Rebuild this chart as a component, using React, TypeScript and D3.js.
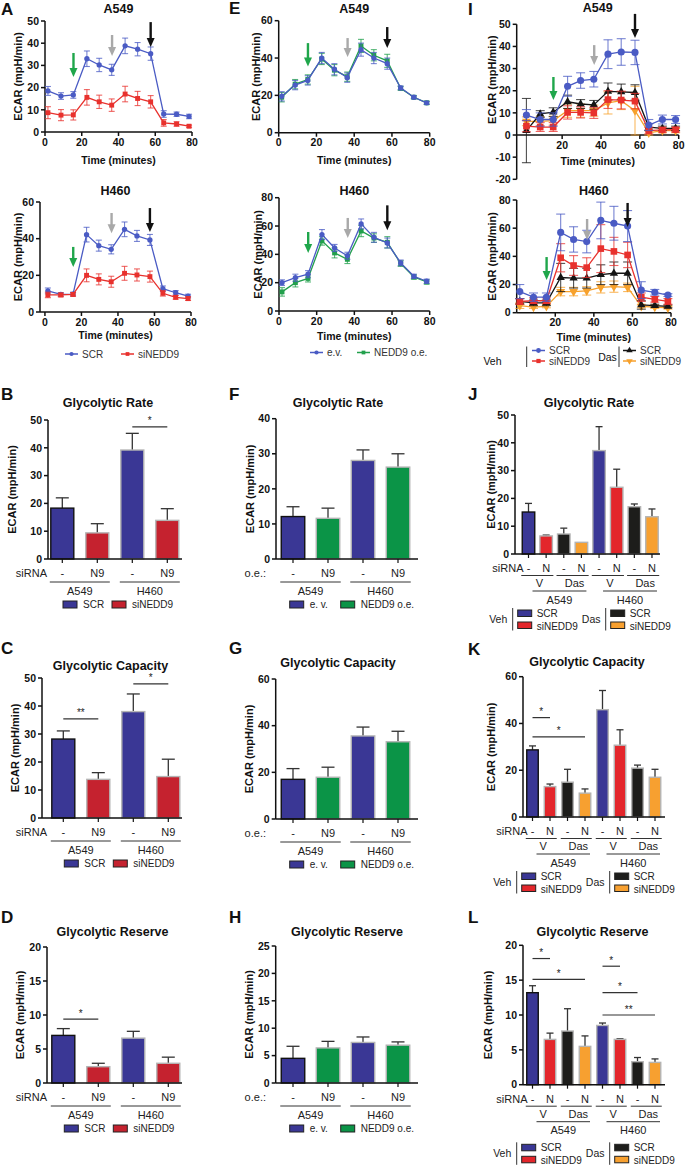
import React from "react";
import * as d3 from "d3";

const FONT = "'Liberation Sans', Arial, Helvetica, sans-serif";

// ======================= DATA =======================
const TIMES = [1.6, 8.7, 15.4, 22.8, 29.5, 36.3, 43.6, 50.4, 57.5, 64.6, 71.6, 78.4];
const INJECTIONS = [15.5, 36.5, 57.5];

// Panel A (siRNA), A549
const A_A549_SCR = [18.5, 16.2, 16.7, 33.0, 30.2, 28.0, 38.8, 37.3, 35.3, 8.1, 8.0, 7.0];
const A_A549_SCR_SD = [2.0, 1.5, 1.5, 3.5, 3.0, 2.5, 3.5, 3.0, 3.0, 1.5, 1.0, 1.0];
const A_A549_SI = [8.7, 7.6, 7.7, 15.6, 13.6, 12.1, 17.1, 15.1, 13.6, 4.1, 3.6, 2.6];
const A_A549_SI_SD = [2.7, 2.5, 2.3, 3.5, 3.0, 2.8, 3.5, 3.2, 2.8, 1.5, 1.0, 0.5];
// Panel A, H460
const A_H460_SCR = [11.5, 9.6, 9.8, 42.2, 36.2, 34.2, 45.1, 41.5, 39.3, 12.7, 10.5, 8.7];
const A_H460_SCR_SD = [1.6, 1.0, 1.0, 4.0, 3.0, 2.5, 4.0, 3.0, 3.0, 1.5, 1.2, 1.0];
const A_H460_SI = [9.3, 9.3, 9.6, 20.0, 17.8, 16.5, 21.1, 20.2, 19.3, 10.2, 8.0, 7.3];
const A_H460_SI_SD = [1.5, 1.0, 1.0, 3.5, 3.0, 3.0, 3.8, 3.3, 3.0, 1.5, 1.0, 1.0];

// Panel E (overexpression), A549
const E_A549_EV = [19.5, 25.5, 28.0, 40.0, 34.0, 29.5, 44.5, 40.0, 37.0, 24.0, 19.0, 16.0];
const E_A549_EV_SD = [2.5, 2.5, 2.5, 3.0, 3.0, 2.5, 3.5, 3.0, 3.0, 1.0, 0.8, 0.8];
const E_A549_OE = [19.0, 26.0, 28.5, 39.5, 33.5, 30.0, 46.5, 41.5, 38.5, 23.8, 19.0, 16.0];
const E_A549_OE_SD = [2.5, 2.5, 2.5, 3.0, 3.0, 2.5, 3.5, 3.0, 3.5, 1.0, 0.8, 0.8];
// Panel E, H460
const E_H460_EV = [20.0, 23.5, 26.0, 54.0, 44.5, 39.0, 61.5, 52.0, 48.0, 34.0, 24.5, 21.0];
const E_H460_EV_SD = [2.0, 2.5, 2.5, 3.5, 2.5, 2.5, 3.5, 3.5, 3.5, 2.0, 1.5, 1.5];
const E_H460_OE = [13.5, 20.0, 23.0, 49.5, 41.0, 36.5, 56.5, 51.5, 48.5, 33.5, 24.0, 20.5];
const E_H460_OE_SD = [3.0, 3.0, 2.5, 3.0, 3.5, 3.0, 4.0, 3.0, 4.0, 2.0, 1.5, 1.5];

// Panel I (siRNA +/- dasatinib), A549
const I_A549_VEH_SCR = [9.0, 7.0, 7.0, 22.0, 24.6, 25.2, 36.5, 37.5, 37.3, 4.5, 7.0, 7.0];
const I_A549_VEH_SCR_SD = [2.5, 3.0, 3.0, 4.5, 3.5, 3.5, 6.5, 6.0, 5.5, 2.5, 2.0, 1.8];
const I_A549_VEH_SI = [4.0, 3.6, 3.6, 10.2, 10.2, 10.0, 16.0, 15.8, 15.3, 2.0, 2.3, 2.4];
const I_A549_VEH_SI_SD = [2.5, 2.0, 2.0, 3.0, 2.5, 2.5, 4.0, 4.0, 3.5, 1.5, 1.0, 1.0];
const I_A549_DAS_SCR = [2.0, 9.5, 10.3, 15.0, 14.0, 13.6, 19.7, 19.5, 19.2, 3.6, 3.0, 3.0];
const I_A549_DAS_SCR_SD = [14.5, 1.5, 2.0, 3.0, 2.0, 2.0, 3.8, 3.5, 3.5, 1.5, 1.0, 1.0];
const I_A549_DAS_SI = [6.2, 6.2, 6.5, 11.0, 11.0, 11.0, 14.5, 15.5, 11.0, 1.0, 2.0, 2.0];
const I_A549_DAS_SI_SD = [2.0, 2.0, 2.0, 3.0, 3.0, 2.5, 5.0, 4.0, 11.0, 1.0, 1.0, 1.0];
// Panel I, H460
const I_H460_VEH_SCR = [15.0, 11.0, 11.0, 57.0, 52.0, 50.5, 65.5, 63.5, 61.5, 16.0, 14.5, 12.5];
const I_H460_VEH_SCR_SD = [5.0, 3.0, 3.0, 13.0, 9.0, 8.0, 13.0, 12.0, 11.0, 6.0, 2.0, 1.0];
const I_H460_VEH_SI = [8.0, 8.5, 8.5, 39.0, 33.5, 32.0, 45.5, 43.5, 41.0, 11.0, 9.5, 8.0];
const I_H460_VEH_SI_SD = [2.0, 2.0, 2.0, 10.0, 7.0, 7.0, 17.0, 10.0, 9.0, 3.0, 2.0, 2.0];
const I_H460_DAS_SCR = [8.0, 7.0, 7.0, 25.0, 24.5, 24.5, 27.0, 28.0, 28.0, 5.5, 5.0, 4.5];
const I_H460_DAS_SCR_SD = [2.0, 2.0, 2.0, 10.0, 7.0, 7.0, 7.0, 8.0, 8.0, 3.0, 1.0, 1.0];
const I_H460_DAS_SI = [5.0, 4.0, 4.5, 15.0, 15.0, 15.5, 18.0, 18.5, 18.0, 4.5, 4.0, 3.5];
const I_H460_DAS_SI_SD = [2.0, 1.0, 1.0, 3.0, 3.0, 3.0, 4.0, 4.0, 3.0, 1.0, 1.0, 1.0];

// Injection arrows: [tip value, tail value] for glucose, oligomycin, 2-DG
const A_A549_ARROWS = [[24.8, 35.6], [34.2, 43.7], [38.3, 49.5]];
const A_H460_ARROWS = [[24.5, 35.5], [43.0, 54.0], [43.6, 56.7]];
const E_A549_ARROWS = [[35.5, 48.0], [40.5, 50.7], [45.4, 56.6]];
const E_H460_ARROWS = [[41.0, 55.8], [51.5, 65.7], [57.0, 74.6]];
const I_A549_ARROWS = [[15.8, 26.2], [31.6, 40.6], [43.8, 54.7]];
const I_H460_ARROWS = [[23.2, 39.5], [51.6, 66.5], [60.8, 77.9]];

// Bar panels (mean, SD)
const B_RATE = [18.3, 9.4, 39.2, 13.9];
const B_RATE_SD = [3.7, 3.3, 6.0, 4.2];
const C_CAP = [28.2, 13.8, 38.0, 14.8];
const C_CAP_SD = [2.9, 2.4, 6.3, 6.2];
const D_RES = [7.0, 2.4, 6.6, 2.9];
const D_RES_SD = [1.0, 0.5, 1.0, 0.9];
const F_RATE = [12.1, 11.6, 28.1, 26.2];
const F_RATE_SD = [2.8, 2.9, 3.0, 3.8];
const G_CAP = [17.0, 17.9, 35.6, 33.1];
const G_CAP_SD = [4.6, 4.3, 3.8, 4.5];
const H_RES = [4.5, 6.4, 7.4, 6.9];
const H_RES_SD = [2.2, 1.2, 1.0, 0.6];
const J_RATE = [15.1, 6.5, 7.2, 4.2, 37.2, 24.0, 17.0, 13.4];
const J_RATE_SD = [3.1, 0.3, 2.1, 0, 8.6, 6.5, 1.0, 2.8];
const K_CAP = [28.7, 13.0, 14.9, 10.2, 45.9, 30.7, 20.9, 17.0];
const K_CAP_SD = [1.7, 1.1, 5.5, 1.8, 8.2, 6.6, 1.3, 3.4];
const L_RES = [13.2, 6.5, 7.7, 5.5, 8.5, 6.5, 3.3, 3.2];
const L_RES_SD = [1.0, 0.9, 3.2, 1.5, 0.35, 0.1, 0.6, 0.5];

// significance: [bar i, bar j, y value, label]
const B_SIG: [number, number, number, string][] = [[2, 3, 47.5, "*"]];
const C_SIG: [number, number, number, string][] = [[0, 1, 35.4, "**"], [2, 3, 47.9, "*"]];
const D_SIG: [number, number, number, string][] = [[0, 1, 9.4, "*"]];
const K_SIG: [number, number, number, string][] = [[0, 1, 42.5, "*"], [0, 3, 34.3, "*"]];
const L_SIG: [number, number, number, string][] = [
  [0, 1, 18.1, "*"], [0, 3, 15.1, "*"], [4, 5, 17.0, "*"], [4, 6, 13.2, "*"], [4, 7, 10.0, "**"],
];

const SI_TICKS = ["-", "N9", "-", "N9"];
const J_TICKS = ["-", "N", "-", "N", "-", "N", "-", "N"];
const TREAT = ["V", "Das", "V", "Das"];
const CELLS = ["A549", "H460"];

// ======================= STYLE =======================
const C_BLUE = "#4a5bc4";
const C_RED = "#e8312d";
const C_GREEN = "#22a04c";
const C_BLACK = "#151515";
const C_ORANGE = "#f7a12c";
const ARROW_COLORS = ["#1fa64b", "#a9a9a9", "#111111"];
const BAR_BLUE = "#3a3795";
const BAR_RED1 = "#c5222f";
const BAR_GREEN = "#0b9447";
const BAR_RED2 = "#e3262b";
const BAR_BLACK = "#1d1d1b";
const BAR_ORANGE = "#f7a030";

type Series = { v: number[]; e: number[]; color: string; marker: string; size: number };

function Sym({ type, x, y, size, color }: { type: string; x: number; y: number; size: number; color: string }) {
  const t = type === "circle" ? d3.symbolCircle : type === "square" ? d3.symbolSquare : d3.symbolTriangle;
  const d = d3.symbol().type(t).size(size)() as string;
  const rot = type === "triDown" ? 180 : 0;
  return <path d={d} transform={`translate(${x},${y}) rotate(${rot})`} fill={color} />;
}

function Arrow({ x, yTip, yTail, color }: { x: number; yTip: number; yTail: number; color: string }) {
  const hw = 4, hl = 9;
  return (
    <g>
      <line x1={x} x2={x} y1={yTail} y2={yTip - hl + 1} stroke={color} strokeWidth={2.4} />
      <path d={`M${x - hw},${yTip - hl}L${x + hw},${yTip - hl}L${x},${yTip}Z`} fill={color} />
    </g>
  );
}

type LineLayout = {
  axisX: number; xEnd: number; xMin: number; yTop: number; yBot: number;
  yDomain: [number, number]; yTicks: number[]; xTicks: number[];
  titleY: number; timeY: number; yLabelX: number; labelRange?: [number, number]; cap: number;
};

function LinePanel({ L, series, arrows, title }: { L: LineLayout; series: Series[]; arrows: number[][]; title: string }) {
  const x = d3.scaleLinear().domain([L.xMin, 80]).range([L.axisX, L.xEnd]);
  const y = d3.scaleLinear().domain(L.yDomain).range([L.yBot, L.yTop]);
  const xAxisY = y(0);
  const mid = (L.axisX + L.xEnd) / 2;
  const lr = L.labelRange ?? L.yDomain;
  const labelMid = (y(lr[0]) + y(lr[1])) / 2;
  const lineGen = d3.line<number>().x((_, i) => x(TIMES[i])).y((v) => y(v));
  return (
    <g>
      <text x={mid} y={L.titleY} textAnchor="middle" fontSize={12.5} fontWeight="bold">{title}</text>
      <text transform={`translate(${L.yLabelX},${labelMid}) rotate(-90)`} textAnchor="middle" dominantBaseline="central" fontSize={11} fontWeight="bold">ECAR (mpH/min)</text>
      <line x1={L.axisX} x2={L.axisX} y1={y(L.yDomain[0])} y2={y(L.yDomain[1])} stroke="#111" strokeWidth={1.5} />
      {L.yTicks.map((t) => (
        <g key={"y" + t}>
          <line x1={L.axisX - 4} x2={L.axisX} y1={y(t)} y2={y(t)} stroke="#111" strokeWidth={1.5} />
          <text x={L.axisX - 6} y={y(t) + 3.7} textAnchor="end" fontSize={10.5} fontWeight="bold">{String(t)}</text>
        </g>
      ))}
      <line x1={L.axisX} x2={L.xEnd} y1={xAxisY} y2={xAxisY} stroke="#111" strokeWidth={1.5} />
      {L.xTicks.map((t) => (
        <g key={"x" + t}>
          <line x1={x(t)} x2={x(t)} y1={xAxisY} y2={xAxisY + 4} stroke="#111" strokeWidth={1.5} />
          <text x={x(t)} y={xAxisY + 13.5} textAnchor="middle" fontSize={10.5} fontWeight="bold">{String(t)}</text>
        </g>
      ))}
      <text x={mid} y={L.timeY} textAnchor="middle" fontSize={10.5} fontWeight="bold">Time (minutes)</text>
      {series.map((s, si) => (
        <g key={si}>
          {s.v.map((v, i) => {
            const cx = x(TIMES[i]);
            const y1 = y(v - s.e[i]);
            const y2 = y(v + s.e[i]);
            return (
              <g key={i} stroke={s.color} strokeOpacity={0.75} strokeWidth={1.1}>
                <line x1={cx} x2={cx} y1={y1} y2={y2} />
                <line x1={cx - L.cap / 2} x2={cx + L.cap / 2} y1={y1} y2={y1} />
                <line x1={cx - L.cap / 2} x2={cx + L.cap / 2} y1={y2} y2={y2} />
              </g>
            );
          })}
          <path d={lineGen(s.v) as string} fill="none" stroke={s.color} strokeWidth={1.3} />
          {s.v.map((v, i) => (
            <Sym key={i} type={s.marker} x={x(TIMES[i])} y={y(v)} size={s.size} color={s.color} />
          ))}
        </g>
      ))}
      {arrows.map((a, k) => (
        <Arrow key={k} x={x(INJECTIONS[k])} yTip={y(a[0])} yTail={y(a[1])} color={ARROW_COLORS[k]} />
      ))}
    </g>
  );
}

type BarLayout = {
  axisX: number; xEnd: number; yTop: number; yBot: number; yMax: number; yTicks: number[];
  c0: number; step: number; bw: number; titleX: number; titleY: number; letterY: number;
  yLabelX: number; legX: number; legGap?: number; legDy?: number; cap: number;
};

function bandFor(L: BarLayout, n: number) {
  const pad = 1 - L.bw / L.step;
  return d3.scaleBand<number>()
    .domain(d3.range(n))
    .range([L.c0 - L.step / 2, L.c0 - L.step / 2 + n * L.step])
    .paddingInner(pad)
    .paddingOuter(pad / 2);
}

function BarPanel({ L, values, errs, colors, sig, title, letter, children }: {
  L: BarLayout; values: number[]; errs: number[]; colors: string[];
  sig: [number, number, number, string][]; title: string; letter: string; children?: React.ReactNode;
}) {
  const y = d3.scaleLinear().domain([0, L.yMax]).range([L.yBot, L.yTop]);
  const xb = bandFor(L, values.length);
  const bw = xb.bandwidth();
  const cx = (i: number) => (xb(i) as number) + bw / 2;
  const letterX = L.axisX < 200 ? 1 : L.axisX < 450 ? 229 : 468;
  return (
    <g>
      <text x={letterX} y={L.letterY} fontSize={17} fontWeight="bold">{letter}</text>
      <text x={L.titleX} y={L.titleY} textAnchor="middle" fontSize={12.5} fontWeight="bold">{title}</text>
      <text transform={`translate(${L.yLabelX},${(L.yTop + L.yBot) / 2}) rotate(-90)`} textAnchor="middle" dominantBaseline="central" fontSize={11} fontWeight="bold">ECAR (mpH/min)</text>
      {values.map((v, i) => {
        const top = y(v + errs[i]);
        return (
          <g key={i}>
            {errs[i] > 0 && (
              <g stroke="#333" strokeWidth={1.3}>
                <line x1={cx(i)} x2={cx(i)} y1={y(v)} y2={top} />
                <line x1={cx(i) - L.cap / 2} x2={cx(i) + L.cap / 2} y1={top} y2={top} />
              </g>
            )}
            <rect x={xb(i)} y={y(v)} width={bw} height={L.yBot - y(v)} fill={colors[i]}
              stroke={i === 0 ? "#111" : "#b4b4b4"} strokeWidth={1.4} />
          </g>
        );
      })}
      <line x1={L.axisX} x2={L.axisX} y1={L.yBot} y2={L.yTop} stroke="#111" strokeWidth={1.5} />
      {L.yTicks.map((t) => (
        <g key={t}>
          <line x1={L.axisX - 4} x2={L.axisX} y1={y(t)} y2={y(t)} stroke="#111" strokeWidth={1.5} />
          <text x={L.axisX - 6} y={y(t) + 3.7} textAnchor="end" fontSize={10.5} fontWeight="bold">{String(t)}</text>
        </g>
      ))}
      <line x1={L.axisX} x2={L.xEnd} y1={L.yBot} y2={L.yBot} stroke="#111" strokeWidth={1.5} />
      {values.map((_, i) => (
        <line key={i} x1={cx(i)} x2={cx(i)} y1={L.yBot} y2={L.yBot + 4} stroke="#111" strokeWidth={1.2} />
      ))}
      {sig.map(([a, b, v, lab], k) => (
        <g key={k}>
          <line x1={cx(a)} x2={cx(b)} y1={y(v)} y2={y(v)} stroke="#333" strokeWidth={1.2} />
          <text x={(cx(a) + cx(b)) / 2} y={y(v) - 2.5} textAnchor="middle" fontSize={10} fill="#222" stroke="none">{lab}</text>
        </g>
      ))}
      {children}
    </g>
  );
}

function SimpleCats({ L, rowLabel, rowLabelEnd, legendNames, legendColors }: {
  L: BarLayout; rowLabel: string; rowLabelEnd: number; legendNames: string[]; legendColors: string[];
}) {
  const xb = bandFor(L, 4);
  const bw = xb.bandwidth();
  const cx = (i: number) => (xb(i) as number) + bw / 2;
  const b = L.yBot;
  const gap = L.legGap ?? 49;
  return (
    <g fontSize={11} fill="#222">
      <text x={rowLabelEnd} y={b + 18} textAnchor="end">{rowLabel}</text>
      {SI_TICKS.map((t, i) => (
        <text key={i} x={cx(i)} y={b + 18} textAnchor="middle">{t}</text>
      ))}
      {CELLS.map((c, g) => {
        const x1 = (xb(2 * g) as number) - 1;
        const x2 = (xb(2 * g + 1) as number) + bw + 1;
        return (
          <g key={c}>
            <line x1={x1} x2={x2} y1={b + 23} y2={b + 23} stroke="#333" strokeWidth={1} />
            <text x={(x1 + x2) / 2} y={b + 36} textAnchor="middle">{c}</text>
          </g>
        );
      })}
      {legendNames.map((nm, k) => (
        <g key={nm}>
          <rect x={L.legX + k * gap} y={b + 42} width={14} height={7} fill={legendColors[k]} stroke="#222" strokeWidth={1} />
          <text x={L.legX + k * gap + 20} y={b + 49} fontSize={10}>{nm}</text>
        </g>
      ))}
    </g>
  );
}

function ComplexCats({ L }: { L: BarLayout }) {
  const xb = bandFor(L, 8);
  const bw = xb.bandwidth();
  const cx = (i: number) => (xb(i) as number) + bw / 2;
  const b = L.yBot;
  const ly = b + (L.legDy ?? 56);
  const lx = L.legX;
  const legendRow = (x0: number, name: string, cols: string[]) => (
    <g>
      <text x={x0 - 19.5} y={ly + 13} textAnchor="middle" fontSize={10.5}>{name}</text>
      <line x1={x0 - 5} x2={x0 - 5} y1={ly - 2} y2={ly + 20.5} stroke="#333" strokeWidth={1} />
      <rect x={x0} y={ly} width={14} height={6.5} fill={cols[0]} stroke="#222" strokeWidth={1} />
      <rect x={x0} y={ly + 12} width={14} height={6.5} fill={cols[1]} stroke="#222" strokeWidth={1} />
      <text x={x0 + 19} y={ly + 7} fontSize={10}>SCR</text>
      <text x={x0 + 19} y={ly + 19.5} fontSize={10}>siNEDD9</text>
    </g>
  );
  return (
    <g fontSize={11} fill="#222">
      <text x={L.c0 - 5} y={b + 18} textAnchor="end">siRNA</text>
      {J_TICKS.map((t, i) => (
        <text key={i} x={cx(i)} y={b + 18} textAnchor="middle">{t}</text>
      ))}
      {TREAT.map((t, p) => {
        const x1 = (xb(2 * p) as number) - 1;
        const x2 = (xb(2 * p + 1) as number) + bw + 1;
        return (
          <g key={p}>
            <line x1={x1} x2={x2} y1={b + 21.5} y2={b + 21.5} stroke="#333" strokeWidth={1} />
            <text x={(x1 + x2) / 2 + 2} y={b + 33} textAnchor="middle">{t}</text>
          </g>
        );
      })}
      {CELLS.map((c, g) => {
        const x1 = cx(4 * g) + 4;
        const x2 = cx(4 * g + 3) + 5;
        return (
          <g key={c}>
            <line x1={x1} x2={x2} y1={b + 37} y2={b + 37} stroke="#333" strokeWidth={1} />
            <text x={(x1 + x2) / 2} y={b + 49.5} textAnchor="middle">{c}</text>
          </g>
        );
      })}
      {legendRow(lx, "Veh", [BAR_BLUE, BAR_RED2])}
      {legendRow(lx + 93, "Das", [BAR_BLACK, BAR_ORANGE])}
    </g>
  );
}

// ======================= LAYOUTS =======================
const LA_TOP: LineLayout = { axisX: 45, xEnd: 192, xMin: 0, yTop: 21, yBot: 132, yDomain: [0, 50], yTicks: [0, 10, 20, 30, 40, 50], xTicks: [0, 20, 40, 60, 80], titleY: 13, timeY: 164, yLabelX: 18, cap: 6 };
const LA_BOT: LineLayout = { axisX: 40, xEnd: 191, xMin: -2.7, yTop: 202, yBot: 312, yDomain: [0, 60], yTicks: [0, 20, 40, 60], xTicks: [0, 20, 40, 60, 80], titleY: 195, timeY: 339, yLabelX: 18, cap: 6 };
const LE_TOP: LineLayout = { axisX: 278.7, xEnd: 429.7, xMin: 0, yTop: 20.7, yBot: 132.7, yDomain: [0, 60], yTicks: [0, 20, 40, 60], xTicks: [0, 20, 40, 60, 80], titleY: 13, timeY: 164, yLabelX: 256, cap: 6 };
const LE_BOT: LineLayout = { axisX: 279, xEnd: 429.7, xMin: 0, yTop: 197.7, yBot: 311, yDomain: [0, 80], yTicks: [0, 20, 40, 60, 80], xTicks: [0, 20, 40, 60, 80], titleY: 195, timeY: 340, yLabelX: 258, cap: 6 };
const LI_TOP: LineLayout = { axisX: 516.7, xEnd: 678.7, xMin: -3.4, yTop: 24.3, yBot: 179.3, yDomain: [-20, 50], yTicks: [-20, -10, 0, 10, 20, 30, 40, 50], xTicks: [20, 40, 60, 80], titleY: 12, timeY: 165, yLabelX: 492, labelRange: [0, 50], cap: 9 };
const LI_BOT: LineLayout = { axisX: 516.7, xEnd: 671, xMin: 0, yTop: 200, yBot: 312.7, yDomain: [0, 80], yTicks: [0, 20, 40, 60, 80], xTicks: [20, 40, 60, 80], titleY: 195, timeY: 341, yLabelX: 492, cap: 9 };

const LB: BarLayout = { axisX: 48, xEnd: 182, yTop: 420, yBot: 559, yMax: 50, yTicks: [0, 10, 20, 30, 40, 50], c0: 62.3, step: 35, bw: 23, titleX: 108, titleY: 407, letterY: 400, yLabelX: 12, legX: 63, cap: 13 };
const LC: BarLayout = { axisX: 42, xEnd: 182, yTop: 678, yBot: 818, yMax: 50, yTicks: [0, 10, 20, 30, 40, 50], c0: 63.3, step: 35, bw: 23, titleX: 110.5, titleY: 670, letterY: 654, yLabelX: 15, legX: 64.3, cap: 13 };
const LD: BarLayout = { axisX: 47, xEnd: 182, yTop: 947, yBot: 1083, yMax: 20, yTicks: [0, 5, 10, 15, 20], c0: 63.3, step: 35, bw: 23, titleX: 112.5, titleY: 936, letterY: 923, yLabelX: 20, legX: 64.3, cap: 13 };
const LF: BarLayout = { axisX: 276, xEnd: 418, yTop: 418.7, yBot: 559, yMax: 40, yTicks: [0, 10, 20, 30, 40], c0: 293, step: 35, bw: 23.5, titleX: 338, titleY: 407, letterY: 400, yLabelX: 250, legX: 289.7, legGap: 51, cap: 13 };
const LG: BarLayout = { axisX: 275.7, xEnd: 418, yTop: 679, yBot: 819, yMax: 60, yTicks: [0, 20, 40, 60], c0: 293, step: 35, bw: 23.5, titleX: 338, titleY: 667, letterY: 654, yLabelX: 249, legX: 289.7, legGap: 51, cap: 13 };
const LH: BarLayout = { axisX: 275.7, xEnd: 418, yTop: 946, yBot: 1083, yMax: 25, yTicks: [0, 5, 10, 15, 20, 25], c0: 293, step: 35, bw: 23.5, titleX: 347, titleY: 936, letterY: 923, yLabelX: 249, legX: 289.7, legGap: 51, cap: 13 };
const LJ: BarLayout = { axisX: 515, xEnd: 660, yTop: 415, yBot: 554, yMax: 50, yTicks: [0, 10, 20, 30, 40, 50], c0: 528.5, step: 17.64, bw: 12.5, titleX: 589, titleY: 407, letterY: 400, yLabelX: 491, legX: 517.7, legDy: 56, cap: 7 };
const LK: BarLayout = { axisX: 523, xEnd: 665, yTop: 676.7, yBot: 817, yMax: 60, yTicks: [0, 20, 40, 60], c0: 532.5, step: 17.5, bw: 11.5, titleX: 587, titleY: 666, letterY: 655, yLabelX: 491, legX: 521.7, legDy: 56, cap: 7 };
const LL: BarLayout = { axisX: 523, xEnd: 665, yTop: 945.3, yBot: 1084.7, yMax: 20, yTicks: [0, 5, 10, 15, 20], c0: 532.5, step: 17.5, bw: 11.5, titleX: 592.5, titleY: 936, letterY: 923, yLabelX: 487.5, legX: 521.7, legDy: 59.6, cap: 7 };

const SI_COLORS = [BAR_BLUE, BAR_RED1, BAR_BLUE, BAR_RED1];
const OE_COLORS = [BAR_BLUE, BAR_GREEN, BAR_BLUE, BAR_GREEN];
const DAS_COLORS = [BAR_BLUE, BAR_RED2, BAR_BLACK, BAR_ORANGE, BAR_BLUE, BAR_RED2, BAR_BLACK, BAR_ORANGE];

function LineLegendItem({ x, y, color, marker, size, label }: { x: number; y: number; color: string; marker: string; size: number; label: string }) {
  return (
    <g>
      <line x1={x} x2={x + 13} y1={y} y2={y} stroke={color} strokeWidth={1.5} />
      <Sym type={marker} x={x + 6.5} y={y} size={size} color={color} />
      <text x={x + 17} y={y + 3.5} fontSize={10} fill="#333">{label}</text>
    </g>
  );
}

export default function App() {
  const aTop: Series[] = [
    { v: A_A549_SCR, e: A_A549_SCR_SD, color: C_BLUE, marker: "circle", size: 22 },
    { v: A_A549_SI, e: A_A549_SI_SD, color: C_RED, marker: "square", size: 24 },
  ];
  const aBot: Series[] = [
    { v: A_H460_SCR, e: A_H460_SCR_SD, color: C_BLUE, marker: "circle", size: 22 },
    { v: A_H460_SI, e: A_H460_SI_SD, color: C_RED, marker: "square", size: 24 },
  ];
  const eTop: Series[] = [
    { v: E_A549_OE, e: E_A549_OE_SD, color: C_GREEN, marker: "square", size: 24 },
    { v: E_A549_EV, e: E_A549_EV_SD, color: C_BLUE, marker: "circle", size: 22 },
  ];
  const eBot: Series[] = [
    { v: E_H460_OE, e: E_H460_OE_SD, color: C_GREEN, marker: "square", size: 24 },
    { v: E_H460_EV, e: E_H460_EV_SD, color: C_BLUE, marker: "circle", size: 22 },
  ];
  const iTop: Series[] = [
    { v: I_A549_DAS_SI, e: I_A549_DAS_SI_SD, color: C_ORANGE, marker: "triDown", size: 34 },
    { v: I_A549_DAS_SCR, e: I_A549_DAS_SCR_SD, color: C_BLACK, marker: "triangle", size: 30 },
    { v: I_A549_VEH_SI, e: I_A549_VEH_SI_SD, color: C_RED, marker: "square", size: 44 },
    { v: I_A549_VEH_SCR, e: I_A549_VEH_SCR_SD, color: C_BLUE, marker: "circle", size: 40 },
  ];
  const iBot: Series[] = [
    { v: I_H460_DAS_SI, e: I_H460_DAS_SI_SD, color: C_ORANGE, marker: "triDown", size: 34 },
    { v: I_H460_DAS_SCR, e: I_H460_DAS_SCR_SD, color: C_BLACK, marker: "triangle", size: 30 },
    { v: I_H460_VEH_SI, e: I_H460_VEH_SI_SD, color: C_RED, marker: "square", size: 44 },
    { v: I_H460_VEH_SCR, e: I_H460_VEH_SCR_SD, color: C_BLUE, marker: "circle", size: 40 },
  ];

  return (
    <svg width={685} height={1165} viewBox="0 0 685 1165"
      style={{ position: "absolute", left: 0, top: 0, display: "block" }}
      fontFamily={FONT} fill="#111">
      <rect x={0} y={0} width={685} height={1165} fill="#fff" />

      {/* Letters for line panels */}
      <text x={1} y={15} fontSize={17} fontWeight="bold">A</text>
      <text x={229} y={14} fontSize={17} fontWeight="bold">E</text>
      <text x={468} y={15} fontSize={17} fontWeight="bold">I</text>

      <LinePanel L={LA_TOP} series={aTop} arrows={A_A549_ARROWS} title="A549" />
      <LinePanel L={LA_BOT} series={aBot} arrows={A_H460_ARROWS} title="H460" />
      <LinePanel L={LE_TOP} series={eTop} arrows={E_A549_ARROWS} title="A549" />
      <LinePanel L={LE_BOT} series={eBot} arrows={E_H460_ARROWS} title="H460" />
      <LinePanel L={LI_TOP} series={iTop} arrows={I_A549_ARROWS} title="A549" />
      <LinePanel L={LI_BOT} series={iBot} arrows={I_H460_ARROWS} title="H460" />

      {/* line legends */}
      <LineLegendItem x={65} y={354} color={C_BLUE} marker="circle" size={14} label="SCR" />
      <LineLegendItem x={121} y={354} color={C_RED} marker="square" size={14} label="siNEDD9" />
      <LineLegendItem x={310} y={352.5} color={C_BLUE} marker="circle" size={14} label="e.v." />
      <LineLegendItem x={357} y={352.5} color={C_GREEN} marker="square" size={14} label="NEDD9 o.e." />
      <g>
        <text x={492.5} y={365} textAnchor="middle" fontSize={10.5}>Veh</text>
        <line x1={526.7} x2={526.7} y1={346.5} y2={367} stroke="#333" strokeWidth={1} />
        <LineLegendItem x={532} y={350.5} color={C_BLUE} marker="circle" size={18} label="SCR" />
        <LineLegendItem x={532} y={361} color={C_RED} marker="square" size={18} label="siNEDD9" />
        <text x={607.5} y={360.5} textAnchor="middle" fontSize={10.5}>Das</text>
        <line x1={619} x2={619} y1={346.5} y2={367} stroke="#333" strokeWidth={1} />
        <LineLegendItem x={623} y={350.5} color={C_BLACK} marker="triangle" size={18} label="SCR" />
        <LineLegendItem x={623} y={361} color={C_ORANGE} marker="triDown" size={18} label="siNEDD9" />
      </g>

      <BarPanel L={LB} values={B_RATE} errs={B_RATE_SD} colors={SI_COLORS} sig={B_SIG} title="Glycolytic Rate" letter="B">
        <SimpleCats L={LB} rowLabel="siRNA" rowLabelEnd={47} legendNames={["SCR", "siNEDD9"]} legendColors={[BAR_BLUE, BAR_RED1]} />
      </BarPanel>
      <BarPanel L={LC} values={C_CAP} errs={C_CAP_SD} colors={SI_COLORS} sig={C_SIG} title="Glycolytic Capacity" letter="C">
        <SimpleCats L={LC} rowLabel="siRNA" rowLabelEnd={47} legendNames={["SCR", "siNEDD9"]} legendColors={[BAR_BLUE, BAR_RED1]} />
      </BarPanel>
      <BarPanel L={LD} values={D_RES} errs={D_RES_SD} colors={SI_COLORS} sig={D_SIG} title="Glycolytic Reserve" letter="D">
        <SimpleCats L={LD} rowLabel="siRNA" rowLabelEnd={47} legendNames={["SCR", "siNEDD9"]} legendColors={[BAR_BLUE, BAR_RED1]} />
      </BarPanel>

      <BarPanel L={LF} values={F_RATE} errs={F_RATE_SD} colors={OE_COLORS} sig={[]} title="Glycolytic Rate" letter="F">
        <SimpleCats L={LF} rowLabel="o.e.:" rowLabelEnd={266} legendNames={["e. v.", "NEDD9 o.e."]} legendColors={[BAR_BLUE, BAR_GREEN]} />
      </BarPanel>
      <BarPanel L={LG} values={G_CAP} errs={G_CAP_SD} colors={OE_COLORS} sig={[]} title="Glycolytic Capacity" letter="G">
        <SimpleCats L={LG} rowLabel="o.e.:" rowLabelEnd={266} legendNames={["e. v.", "NEDD9 o.e."]} legendColors={[BAR_BLUE, BAR_GREEN]} />
      </BarPanel>
      <BarPanel L={LH} values={H_RES} errs={H_RES_SD} colors={OE_COLORS} sig={[]} title="Glycolytic Reserve" letter="H">
        <SimpleCats L={LH} rowLabel="o.e.:" rowLabelEnd={266} legendNames={["e. v.", "NEDD9 o.e."]} legendColors={[BAR_BLUE, BAR_GREEN]} />
      </BarPanel>

      <BarPanel L={LJ} values={J_RATE} errs={J_RATE_SD} colors={DAS_COLORS} sig={[]} title="Glycolytic Rate" letter="J">
        <ComplexCats L={LJ} />
      </BarPanel>
      <BarPanel L={LK} values={K_CAP} errs={K_CAP_SD} colors={DAS_COLORS} sig={K_SIG} title="Glycolytic Capacity" letter="K">
        <ComplexCats L={LK} />
      </BarPanel>
      <BarPanel L={LL} values={L_RES} errs={L_RES_SD} colors={DAS_COLORS} sig={L_SIG} title="Glycolytic Reserve" letter="L">
        <ComplexCats L={LL} />
      </BarPanel>
    </svg>
  );
}
